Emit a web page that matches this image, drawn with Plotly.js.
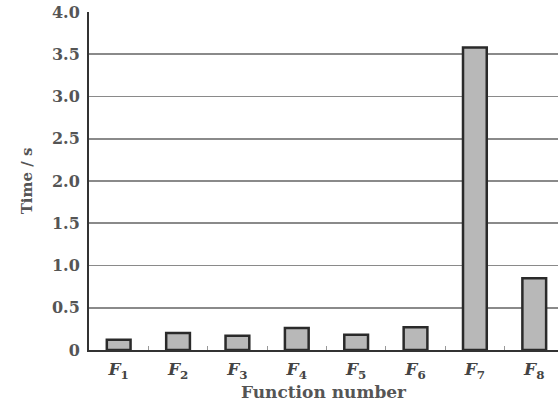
<!DOCTYPE html>
<html>
<head>
<meta charset="utf-8">
<script src="https://cdn.plot.ly/plotly-3.0.1.min.js"></script>
<style>html,body{margin:0;padding:0;background:#fff;}#chart{width:558px;height:410px;}</style>
</head>
<body>
<div id="chart"></div>
<script>
const categories = ['F1','F2','F3','F4','F5','F6','F7','F8'];
const tickLabels = ['<i>F</i><sub>1</sub>','<i>F</i><sub>2</sub>','<i>F</i><sub>3</sub>','<i>F</i><sub>4</sub>','<i>F</i><sub>5</sub>','<i>F</i><sub>6</sub>','<i>F</i><sub>7</sub>','<i>F</i><sub>8</sub>'];
const times = [0.12, 0.20, 0.17, 0.26, 0.18, 0.27, 3.58, 0.85];
const yTicks = [0, 0.5, 1.0, 1.5, 2.0, 2.5, 3.0, 3.5, 4.0];
const yTickText = ['0','0.5','1.0','1.5','2.0','2.5','3.0','3.5','4.0'];

const fontFam = '"DejaVu Serif", "Liberation Serif", serif';

Plotly.newPlot('chart', [{
  type: 'bar',
  x: categories,
  y: times,
  width: 0.4,
  marker: {color: '#b8b8b8', line: {color: '#2a2a2a', width: 2.5}},
  hoverinfo: 'none'
}], {
  width: 558, height: 410,
  margin: {l: 89, r: 0, t: 12, b: 60},
  paper_bgcolor: '#fff', plot_bgcolor: '#fff',
  showlegend: false,
  bargap: 0.6,
  xaxis: {
    type: 'category',
    range: [-0.5, 7.4],
    tickvals: categories,
    ticktext: tickLabels,
    tickson: 'boundaries',
    ticks: 'inside', ticklen: 4, tickcolor: '#999',
    ticklabelstandoff: 3,
    showline: true, linecolor: '#333', linewidth: 2,
    showgrid: false,
    tickfont: {family: fontFam, size: 17, color: '#444', weight: 'bold'},
    title: {text: '<b>Function number</b>', font: {family: fontFam, size: 17, color: '#555'}, standoff: 4}
  },
  yaxis: {
    range: [0, 4.0],
    tickvals: yTicks,
    ticktext: yTickText,
    ticks: '',
    ticklabelstandoff: 4,
    showline: true, linecolor: '#333', linewidth: 2,
    showgrid: true, gridcolor: '#8a8a8a', gridwidth: 1.8,
    zeroline: false,
    tickfont: {family: fontFam, size: 16, color: '#555', weight: 'bold'},
    title: {text: '<b>Time / s</b>', font: {family: fontFam, size: 15, color: '#555'}, standoff: 16}
  }
}, {staticPlot: true});
</script>
</body>
</html>
